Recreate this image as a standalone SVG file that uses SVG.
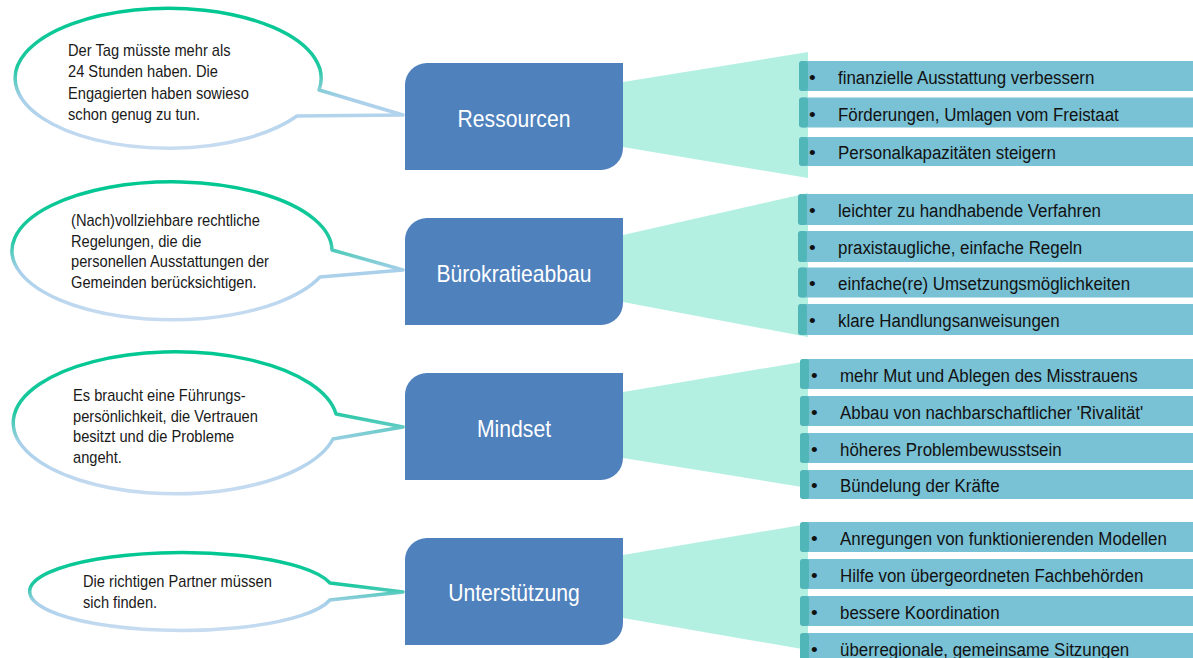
<svg xmlns="http://www.w3.org/2000/svg" width="1193" height="658" viewBox="0 0 1193 658">
<defs>
<linearGradient id="bubbleStroke" x1="0" y1="0" x2="0" y2="1">
<stop offset="0" stop-color="#00c791"/>
<stop offset="0.42" stop-color="#1ec8a0"/>
<stop offset="0.64" stop-color="#a8cfea"/>
<stop offset="1" stop-color="#c8dcf1"/>
</linearGradient>
<style>
.bubble{fill:#ffffff;stroke:url(#bubbleStroke);stroke-width:3.5;stroke-linejoin:round}
.btxt{font-family:"Liberation Sans",Arial,sans-serif;font-size:16.2px;fill:#1a1a1a}
.box{fill:#4f81bd}
.boxtxt{font-family:"Liberation Sans",Arial,sans-serif;font-size:23px;fill:#ffffff;text-anchor:middle}
.funnel{fill:#b4f0e1}
.item{fill:#79c1d5}
.cap{fill:#50b6b8}
.itxt{font-family:"Liberation Sans",Arial,sans-serif;font-size:19px;fill:#111111}
</style>
</defs>
<rect width="1193" height="658" fill="#ffffff"/>

<g id="connectors">
<polygon class="funnel" points="623,82 808,52 808,178 623,147"/>
<polygon class="funnel" points="623,235 808,193 808,337 623,302"/>
<polygon class="funnel" points="623,392 808,361 808,488 623,458"/>
<polygon class="funnel" points="623,555 808,524 808,650 623,618"/>
</g>

<g id="bubble-ressourcen">
<path class="bubble" d="M319,90 L403,115 L297,116 A153,70 0 1 1 319,90 Z"/>
<text class="btxt" transform="translate(68,0) scale(0.905,1)"><tspan x="0" y="56">Der Tag müsste mehr als</tspan><tspan x="0" y="77.5">24 Stunden haben. Die</tspan><tspan x="0" y="99">Engagierten haben sowieso</tspan><tspan x="0" y="120.5">schon genug zu tun.</tspan></text>
</g>

<g id="bubble-buerokratie">
<path class="bubble" d="M332,250 L403,270 L320,277 A160,69 0 1 1 332,250 Z"/>
<text class="btxt" transform="translate(71,0) scale(0.905,1)"><tspan x="0" y="226">(Nach)vollziehbare rechtliche</tspan><tspan x="0" y="247">Regelungen, die die</tspan><tspan x="0" y="267.5">personellen Ausstattungen der</tspan><tspan x="0" y="288">Gemeinden berücksichtigen.</tspan></text>
</g>

<g id="bubble-mindset">
<path class="bubble" d="M336,414 L403,427 L333,439 A162,71 0 1 1 336,414 Z"/>
<text class="btxt" transform="translate(73,0) scale(0.905,1)"><tspan x="0" y="401">Es braucht eine Führungs-</tspan><tspan x="0" y="422">persönlichkeit, die Vertrauen</tspan><tspan x="0" y="442.5">besitzt und die Probleme</tspan><tspan x="0" y="463">angeht.</tspan></text>
</g>

<g id="bubble-unterstuetzung">
<path class="bubble" d="M330,583 L403,592 L330,600 A152,39 0 1 1 330,583 Z"/>
<text class="btxt" transform="translate(83,0) scale(0.905,1)"><tspan x="0" y="587">Die richtigen Partner müssen</tspan><tspan x="0" y="608">sich finden.</tspan></text>
</g>

<g id="box-ressourcen">
<path class="box" d="M427,63 H623 V148 A22,22 0 0 1 601,170 H405 V85 A22,22 0 0 1 427,63 Z"/>
<text class="boxtxt" transform="translate(514,126.5) scale(0.92,1)">Ressourcen</text>
</g>
<g id="box-buerokratieabbau">
<path class="box" d="M427,218 H623 V303 A22,22 0 0 1 601,325 H405 V240 A22,22 0 0 1 427,218 Z"/>
<text class="boxtxt" transform="translate(514,281.5) scale(0.92,1)">Bürokratieabbau</text>
</g>
<g id="box-mindset">
<path class="box" d="M427,373 H623 V458 A22,22 0 0 1 601,480 H405 V395 A22,22 0 0 1 427,373 Z"/>
<text class="boxtxt" transform="translate(514,436.5) scale(0.92,1)">Mindset</text>
</g>
<g id="box-unterstuetzung">
<path class="box" d="M427,538 H623 V623 A22,22 0 0 1 601,645 H405 V560 A22,22 0 0 1 427,538 Z"/>
<text class="boxtxt" transform="translate(514,600.5) scale(0.92,1)">Unterstützung</text>
</g>

<g id="list-ressourcen">
<g id="r1"><rect class="item" x="799" y="61" width="400" height="30" rx="4"/><rect class="cap" x="799" y="61" width="9" height="30" rx="3"/><text class="itxt" x="809" y="83.5">•</text><text class="itxt" transform="translate(838,83.5) scale(0.89,1)">finanzielle Ausstattung verbessern</text></g>
<g id="r2"><rect class="item" x="799" y="97.5" width="400" height="30" rx="4"/><rect class="cap" x="799" y="97.5" width="9" height="30" rx="3"/><text class="itxt" x="809" y="120.5">•</text><text class="itxt" transform="translate(838,120.5) scale(0.89,1)">Förderungen, Umlagen vom Freistaat</text></g>
<g id="r3"><rect class="item" x="799" y="137" width="400" height="29" rx="4"/><rect class="cap" x="799" y="137" width="9" height="29" rx="3"/><text class="itxt" x="809" y="159">•</text><text class="itxt" transform="translate(838,159) scale(0.89,1)">Personalkapazitäten steigern</text></g>
</g>

<g id="list-buerokratie">
<g id="b1"><rect class="item" x="798" y="194" width="400" height="31" rx="4"/><rect class="cap" x="798" y="194" width="9" height="31" rx="3"/><text class="itxt" x="809" y="217">•</text><text class="itxt" transform="translate(838,217) scale(0.89,1)">leichter zu handhabende Verfahren</text></g>
<g id="b2"><rect class="item" x="798" y="231" width="400" height="31" rx="4"/><rect class="cap" x="798" y="231" width="9" height="31" rx="3"/><text class="itxt" x="809" y="253.5">•</text><text class="itxt" transform="translate(838,253.5) scale(0.89,1)">praxistaugliche, einfache Regeln</text></g>
<g id="b3"><rect class="item" x="798" y="267.5" width="400" height="30" rx="4"/><rect class="cap" x="798" y="267.5" width="9" height="30" rx="3"/><text class="itxt" x="809" y="290">•</text><text class="itxt" transform="translate(838,290) scale(0.89,1)">einfache(re) Umsetzungsmöglichkeiten</text></g>
<g id="b4"><rect class="item" x="798" y="304" width="400" height="31" rx="4"/><rect class="cap" x="798" y="304" width="9" height="31" rx="3"/><text class="itxt" x="809" y="327">•</text><text class="itxt" transform="translate(838,327) scale(0.89,1)">klare Handlungsanweisungen</text></g>
</g>

<g id="list-mindset">
<g id="m1"><rect class="item" x="800" y="359" width="400" height="30" rx="4"/><rect class="cap" x="800" y="359" width="9" height="30" rx="3"/><text class="itxt" x="811" y="381.5">•</text><text class="itxt" transform="translate(840,381.5) scale(0.89,1)">mehr Mut und Ablegen des Misstrauens</text></g>
<g id="m2"><rect class="item" x="800" y="396" width="400" height="30" rx="4"/><rect class="cap" x="800" y="396" width="9" height="30" rx="3"/><text class="itxt" x="811" y="418.5">•</text><text class="itxt" transform="translate(840,418.5) scale(0.89,1)">Abbau von nachbarschaftlicher 'Rivalität'</text></g>
<g id="m3"><rect class="item" x="800" y="433" width="400" height="30" rx="4"/><rect class="cap" x="800" y="433" width="9" height="30" rx="3"/><text class="itxt" x="811" y="455.5">•</text><text class="itxt" transform="translate(840,455.5) scale(0.89,1)">höheres Problembewusstsein</text></g>
<g id="m4"><rect class="item" x="800" y="470" width="400" height="29" rx="4"/><rect class="cap" x="800" y="470" width="9" height="29" rx="3"/><text class="itxt" x="811" y="492">•</text><text class="itxt" transform="translate(840,492) scale(0.89,1)">Bündelung der Kräfte</text></g>
</g>

<g id="list-unterstuetzung">
<g id="u1"><rect class="item" x="800" y="522" width="400" height="30" rx="4"/><rect class="cap" x="800" y="522" width="9" height="30" rx="3"/><text class="itxt" x="811" y="544.5">•</text><text class="itxt" transform="translate(840,544.5) scale(0.89,1)">Anregungen von funktionierenden Modellen</text></g>
<g id="u2"><rect class="item" x="800" y="559" width="400" height="30" rx="4"/><rect class="cap" x="800" y="559" width="9" height="30" rx="3"/><text class="itxt" x="811" y="581.5">•</text><text class="itxt" transform="translate(840,581.5) scale(0.89,1)">Hilfe von übergeordneten Fachbehörden</text></g>
<g id="u3"><rect class="item" x="800" y="596" width="400" height="30" rx="4"/><rect class="cap" x="800" y="596" width="9" height="30" rx="3"/><text class="itxt" x="811" y="618.5">•</text><text class="itxt" transform="translate(840,618.5) scale(0.89,1)">bessere Koordination</text></g>
<g id="u4"><rect class="item" x="800" y="633" width="400" height="31" rx="4"/><rect class="cap" x="800" y="633" width="9" height="31" rx="3"/><text class="itxt" x="811" y="655.5">•</text><text class="itxt" transform="translate(840,655.5) scale(0.89,1)">überregionale, gemeinsame Sitzungen</text></g>
</g>
</svg>
